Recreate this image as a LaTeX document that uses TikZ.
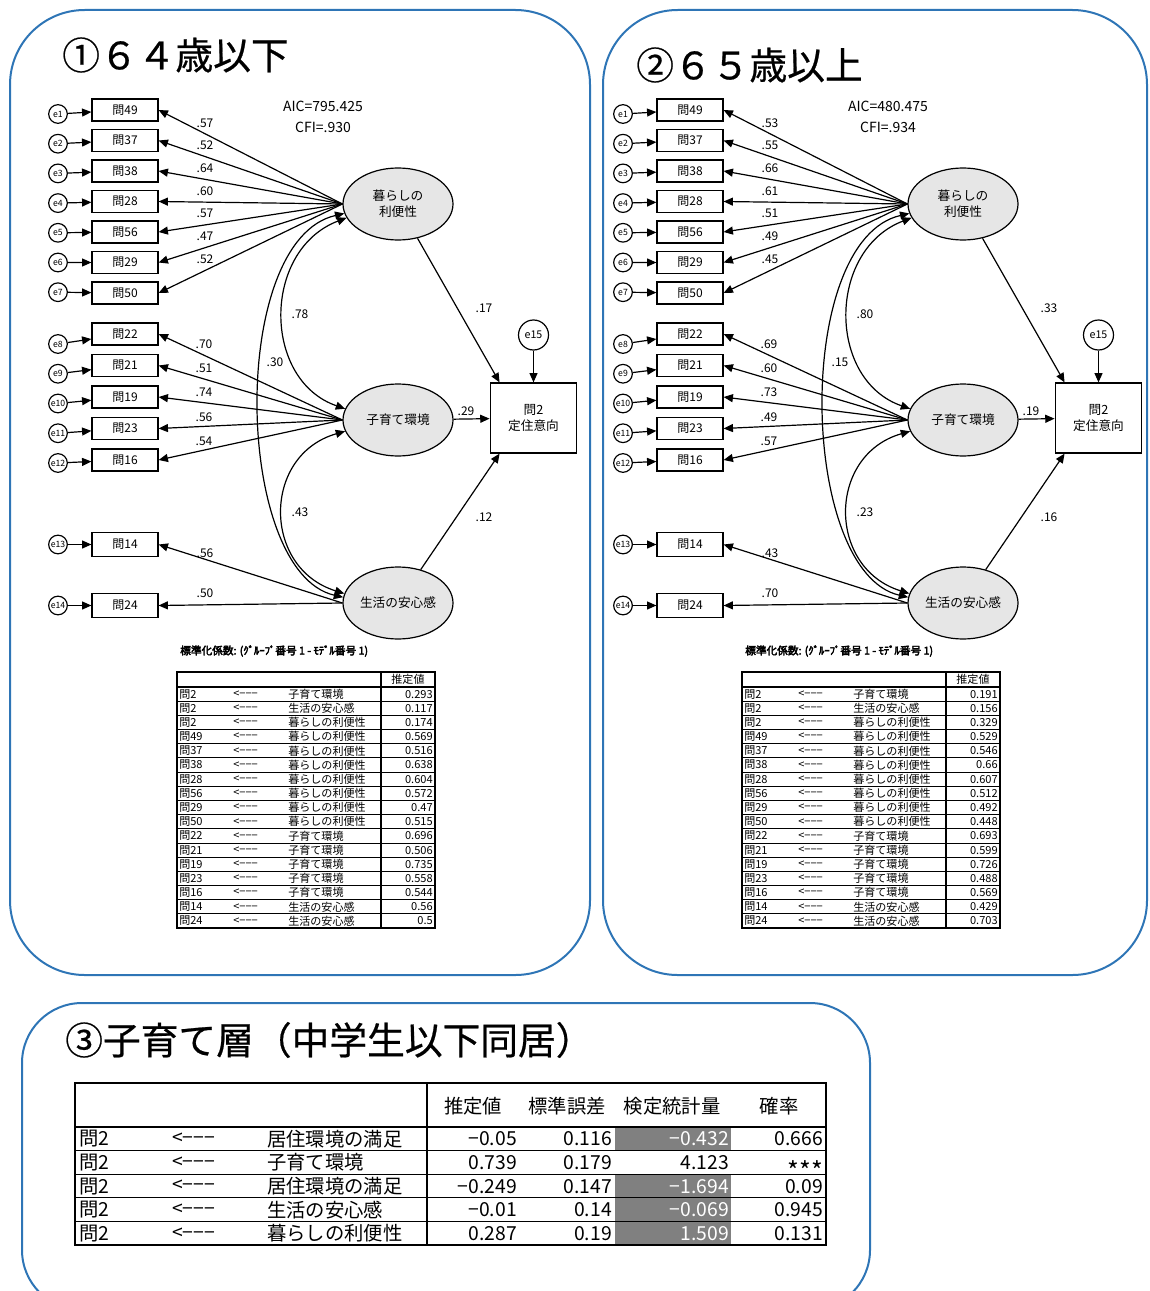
\documentclass[tikz,border=0pt]{standalone}
\usepackage{fontspec}
\newfontfamily\jp{Noto Sans CJK JP}
\newfontfamily\jpt[FakeBold=0.6]{Noto Sans CJK JP}
\newfontfamily\jpb[FakeBold=3.5]{Noto Sans CJK JP}
\usetikzlibrary{arrows.meta,shapes.geometric}
\definecolor{panelblue}{HTML}{2E75B6}
\definecolor{latfill}{HTML}{E6E6E6}
\definecolor{cellgrey}{HTML}{808080}
\tikzset{
  panel/.style={draw=panelblue,line width=1.5pt},
  obs/.style={draw,line width=0.9pt,minimum width=49.5pt,minimum height=16.5pt,inner sep=0pt,font=\jp\fontsize{9}{9}\selectfont},
  err/.style={draw,circle,line width=0.9pt,minimum size=14pt,inner sep=0pt,font=\jp\fontsize{6.5}{6.5}\selectfont},
  lat/.style={draw,ellipse,fill=latfill,line width=0.9pt,minimum width=82.5pt,minimum height=54pt,inner sep=0pt,align=center,font=\jp\fontsize{9.5}{12}\selectfont},
  coef/.style={inner sep=0pt,font=\jp\fontsize{9}{9}\selectfont},
  semarrow/.style={-{Triangle[length=7pt,width=6pt]},line width=0.9pt},
  semcov/.style={{Triangle[length=7pt,width=6pt]}-{Triangle[length=7pt,width=6pt]},line width=0.9pt},
  tcell/.style={inner sep=0pt,font=\jp\fontsize{8.3}{8.3}\selectfont},
  bcell/.style={inner sep=0pt,font=\jp\fontsize{14.5}{15}\selectfont},
  ptitle/.style={inner sep=0pt,anchor=west,font=\jpt\fontsize{28.3}{29}\selectfont},
}
\newcommand\stars{{\vphantom{0}\smash{\raisebox{-0.58em}{\scalebox{1.3}{***}}}}}
\newcommand\setsem[6]{\def\pA{#1}\def\pB{#2}\def\pC{#3}\def\cA{#4}\def\cB{#5}\def\cC{#6}}
\newcommand\sempanel[9]{%
\begin{scope}[shift={(#2,0)}]
\setsem#8%
\node[coef,font=\jp\fontsize{10.5}{11}\selectfont] at (323,106) {#6};
\node[coef,font=\jp\fontsize{10.5}{11}\selectfont] at (323,127) {#7};
% structural part
\node[obs,minimum width=65pt,minimum height=52.5pt,align=center,font=\jp\fontsize{9.5}{12}\selectfont] (#1P) at (533.5,418) {問2\\定住意向};
\node[err,minimum size=22.5pt,font=\jp\fontsize{8}{8}\selectfont] (#1e15) at (533.5,335) {e15};
\draw[semarrow] (#1e15) -- (#1P);
% group 1
\foreach \q/\v [count=\i] in {#3}{%
  \pgfmathsetmacro\by{110+30.5*(\i-1)}%
  \pgfmathsetmacro\ey{\by+4-0.8*(\i-1)}%
  \node[obs] (#1b\q) at (125,\by) {問\q};
  \node[err] (#1e\i) at (58,\ey) {e\i};
  \draw[semarrow] (#1e\i) -- (#1b\q);
  \draw[semarrow] (#1L1.west) -- (#1b\q.east);
  \node[coef] at (205,{123+22.7*(\i-1)}) {\v};
}
% group 2
\foreach \q/\v [count=\i, evaluate=\i as \ei using int(\i+7)] in {#4}{%
  \pgfmathsetmacro\by{334+31.5*(\i-1)}%
  \pgfmathsetmacro\ey{\by+10-1.75*(\i-1)}%
  \node[obs] (#1b\q) at (125,\by) {問\q};
  \node[err] (#1e\ei) at (58,\ey) {e\ei};
  \draw[semarrow] (#1e\ei) -- (#1b\q);
  \draw[semarrow] (#1L2.west) -- (#1b\q.east);
  \node[coef] at (204,{344+24.25*(\i-1)}) {\v};
}
% group 3
\foreach \q/\v [count=\i, evaluate=\i as \ei using int(\i+12)] in {#5}{%
  \pgfmathsetmacro\by{544.5+61*(\i-1)}%
  \node[obs,minimum height=18pt] (#1b\q) at (125,\by) {問\q};
  \node[err] (#1e\ei) at (58,\by) {e\ei};
  \draw[semarrow] (#1e\ei) -- (#1b\q);
  \draw[semarrow] (#1L3.west) -- (#1b\q.east);
  \node[coef] at (205,{553+40*(\i-1)}) {\v};
}
% paths
\draw[semarrow] (#1L1) -- ([xshift=7.5pt]#1P.north west);
\draw[semarrow] (#1L2) -- (#1P);
\draw[semarrow] (#1L3) -- ([xshift=7.5pt]#1P.south west);
\node[coef] at (484,308) {\pA};
\node[coef] at (466,411) {\pB};
\node[coef] at (484,517) {\pC};
% covariances
\draw[semcov] (#1L1.195) .. controls (262,250) and (262,380) .. (#1L2.168);
\draw[semcov] (#1L2.192) .. controls (262,455) and (262,568) .. (#1L3.170);
\draw[semcov] (#1L1.190) .. controls (228,240) and (234,572) .. (#1L3.174);
\node[coef] at (300,314) {\cA};
\node[coef] at (275,362) {\cB};
\node[coef] at (300,512) {\cC};
% table
\node[tcell,anchor=west,font=\jpb\fontsize{8}{9}\selectfont] at (180,651) {標準化係数: (ｸﾞﾙｰﾌﾟ番号 1 - ﾓﾃﾞﾙ番号 1)};
\foreach \q/\n/\v [count=\i] in {#9}{%
  \pgfmathsetmacro\ry{694.1+14.18*(\i-1)}%
  \node[tcell,anchor=west] at (179,\ry) {問\q};
  \node[tcell,anchor=west] at (233,\ry) {<−−−};
  \node[tcell,anchor=west] at (288,\ry) {\n};
  \node[tcell,anchor=east] at (433,\ry) {\v};
  \draw[line width=0.7pt] (177,\ry+7.09) -- (435,\ry+7.09);
}
\draw[line width=1pt] (177,672) rectangle (435,928.1);
\draw[line width=0.9pt] (381,672) -- (381,928.1) (177,687) -- (435,687);
\node[tcell] at (408,679.5) {推定値};
\end{scope}}
\begin{document}
\begin{tikzpicture}[x=0.75pt,y=-0.75pt]
\useasboundingbox (0,0) rectangle (1149,1291);
% panels
\draw[panel,rounded corners=56pt] (10,10) rectangle (590,975);
\draw[panel,rounded corners=56pt] (603,10) rectangle (1147,975);
\begin{scope}
\clip (0,0) rectangle (1149,1291);
\draw[panel,rounded corners=45pt] (22,1003) rectangle (870,1310);
\end{scope}
\node[ptitle] at (62,55) {①６４歳以下};
\node[ptitle] at (636,65) {②６５歳以上};
\node[ptitle] at (65,1040) {③子育て層（中学生以下同居）};
% latent variables of both panels
\foreach \p/\s in {a/0,b/565}{
  \begin{scope}[shift={(\s,0)}]
  \node[lat] (\p L1) at (398,204) {暮らしの\\利便性};
  \node[lat] (\p L2) at (398,420) {子育て環境};
  \node[lat] (\p L3) at (398,603) {生活の安心感};
  \end{scope}
}
\sempanel{a}{0}{49/.57,37/.52,38/.64,28/.60,56/.57,29/.47,50/.52}{22/.70,21/.51,19/.74,23/.56,16/.54}{14/.56,24/.50}{AIC=795.425}{CFI=.930}{{.17}{.29}{.12}{.78}{.30}{.43}}{2/子育て環境/0.293,2/生活の安心感/0.117,2/暮らしの利便性/0.174,49/暮らしの利便性/0.569,37/暮らしの利便性/0.516,38/暮らしの利便性/0.638,28/暮らしの利便性/0.604,56/暮らしの利便性/0.572,29/暮らしの利便性/0.47,50/暮らしの利便性/0.515,22/子育て環境/0.696,21/子育て環境/0.506,19/子育て環境/0.735,23/子育て環境/0.558,16/子育て環境/0.544,14/生活の安心感/0.56,24/生活の安心感/0.5}
\sempanel{b}{565}{49/.53,37/.55,38/.66,28/.61,56/.51,29/.49,50/.45}{22/.69,21/.60,19/.73,23/.49,16/.57}{14/.43,24/.70}{AIC=480.475}{CFI=.934}{{.33}{.19}{.16}{.80}{.15}{.23}}{2/子育て環境/0.191,2/生活の安心感/0.156,2/暮らしの利便性/0.329,49/暮らしの利便性/0.529,37/暮らしの利便性/0.546,38/暮らしの利便性/0.66,28/暮らしの利便性/0.607,56/暮らしの利便性/0.512,29/暮らしの利便性/0.492,50/暮らしの利便性/0.448,22/子育て環境/0.693,21/子育て環境/0.599,19/子育て環境/0.726,23/子育て環境/0.488,16/子育て環境/0.569,14/生活の安心感/0.429,24/生活の安心感/0.703}
% bottom table
\foreach \n/\a/\b/\c/\d/\fc/\tc [count=\i] in {居住環境の満足/−0.05/0.116/−0.432/0.666/cellgrey/white,子育て環境/0.739/0.179/4.123/\stars/white/black,居住環境の満足/−0.249/0.147/−1.694/0.09/cellgrey/white,生活の安心感/−0.01/0.14/−0.069/0.945/cellgrey/white,暮らしの利便性/0.287/0.19/1.509/0.131/cellgrey/white}{%
  \pgfmathsetmacro\rt{1127+23.6*(\i-1)}%
  \pgfmathsetmacro\ry{\rt+12}%
  \fill[\fc] (615,\rt) rectangle (731,\rt+23.6);
  \node[bcell,anchor=west] at (79,\ry) {問2};
  \node[bcell,anchor=west] at (172,\ry) {<−−−};
  \node[bcell,anchor=west] at (267,\ry) {\n};
  \node[bcell,anchor=east] at (517,\ry) {\a};
  \node[bcell,anchor=east] at (612,\ry) {\b};
  \node[bcell,anchor=east,text=\tc] at (729,\ry) {\c};
  \node[bcell,anchor=east] at (823,\ry) {\d};
}
\foreach \yy in {1150.6,1174.2,1197.8,1221.4}{\draw[line width=0.8pt] (75,\yy) -- (826,\yy);}
\draw[line width=1pt] (427,1083) -- (427,1245) (75,1127) -- (826,1127);
\draw[line width=1.5pt] (75,1083) rectangle (826,1245);
\node[bcell] at (473,1106) {推定値};
\node[bcell] at (567,1106) {標準誤差};
\node[bcell] at (672,1106) {検定統計量};
\node[bcell] at (779,1106) {確率};
\end{tikzpicture}
\end{document}
